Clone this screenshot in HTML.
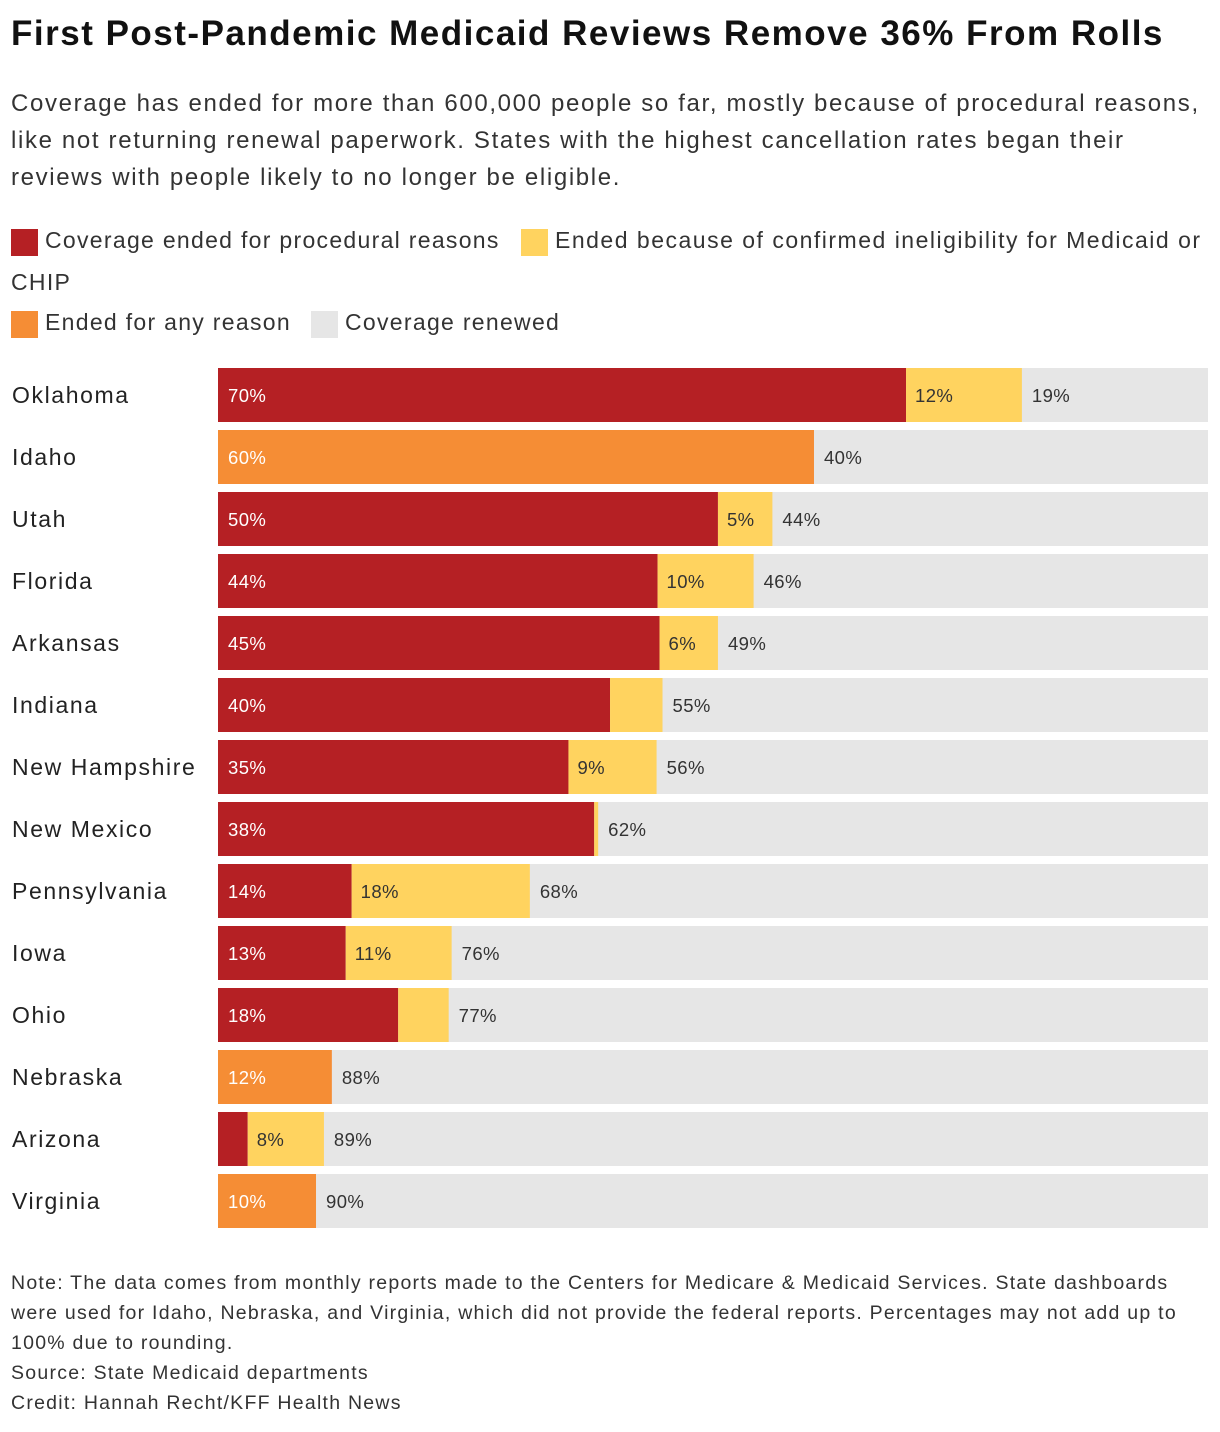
<!DOCTYPE html>
<html><head><meta charset="utf-8">
<style>
body{margin:0;background:#fff;width:1220px;height:1432px;overflow:hidden;font-family:"Liberation Sans",sans-serif;color:#222;}
#title{position:absolute;left:11px;top:14px;font-size:35px;font-weight:bold;letter-spacing:1.5px;color:#111;white-space:nowrap}
#sub{position:absolute;left:11px;top:85px;width:1210px;font-size:24px;line-height:37px;color:#333;letter-spacing:1.65px;white-space:nowrap}
.leg{position:absolute;font-size:23px;color:#333;white-space:nowrap;letter-spacing:1.3px}
.sw{position:absolute;width:27px;height:27px}
#note{position:absolute;left:11px;top:1268px;width:1210px;font-size:19.5px;line-height:30px;color:#333;letter-spacing:1.25px;white-space:nowrap}
</style></head><body>
<div id="title">First Post-Pandemic Medicaid Reviews Remove 36% From Rolls</div>
<div id="sub">Coverage has ended for more than 600,000 people so far, mostly because of procedural reasons,<br>like not returning renewal paperwork. States with the highest cancellation rates began their<br>reviews with people likely to no longer be eligible.</div>
<div>
<div class="sw" style="left:11px;top:229px;background:#b52024"></div>
<div class="leg" style="left:45px;top:227px">Coverage ended for procedural reasons</div>
<div class="sw" style="left:521px;top:229px;background:#ffd35f"></div>
<div class="leg" style="left:555px;top:227px;letter-spacing:1.5px">Ended because of confirmed ineligibility for Medicaid or</div>
<div class="leg" style="left:11px;top:269px">CHIP</div>
<div class="sw" style="left:11px;top:311px;background:#f58d35"></div>
<div class="leg" style="left:45px;top:309px">Ended for any reason</div>
<div class="sw" style="left:311px;top:311px;background:#e6e6e6"></div>
<div class="leg" style="left:345px;top:309px">Coverage renewed</div>
</div>
<svg id="chart" width="1220" height="1260" style="position:absolute;left:0;top:0"></svg>
<div id="note">Note: The data comes from monthly reports made to the Centers for Medicare &amp; Medicaid Services. State dashboards<br>were used for Idaho, Nebraska, and Virginia, which did not provide the federal reports. Percentages may not add up to<br>100% due to rounding.<br>Source: State Medicaid departments<br>Credit: Hannah Recht/KFF Health News</div>
<script>
const states=["Oklahoma","Idaho","Utah","Florida","Arkansas","Indiana","New Hampshire","New Mexico","Pennsylvania","Iowa","Ohio","Nebraska","Arizona","Virginia"];
const procedural=[69.5,0,50.5,44.4,44.6,39.6,35.4,38.0,13.5,12.9,18.2,0,3.0,0];
const ineligible=[11.7,0,5.5,9.7,5.9,5.3,8.9,0.4,18.0,10.7,5.1,0,7.7,0];
const anyReason=[0,60.2,0,0,0,0,0,0,0,0,0,11.5,0,9.9];
const procLabels=["70%","","50%","44%","45%","40%","35%","38%","14%","13%","18%","","",""];
const inelLabels=["12%","","5%","10%","6%","","9%","","18%","11%","","","8%",""];
const anyLabels=["","60%","","","","","","","","","","12%","","10%"];
const renewedLabels=["19%","40%","44%","46%","49%","55%","56%","62%","68%","76%","77%","88%","89%","90%"];
const svg=document.getElementById('chart');const NS="http://www.w3.org/2000/svg";
const x0=218,x1=1208,y0=368,pitch=62,bh=54;
const xs=v=>v*(x1-x0)/100;
function rect(x,y,w,h,f,name){const r=document.createElementNS(NS,'rect');r.setAttribute('x',x);r.setAttribute('y',y);r.setAttribute('width',Math.max(0,w));r.setAttribute('height',h);r.setAttribute('fill',f);


svg.appendChild(r);}
function text(x,y,s,f,size,name,ls){if(!s)return;const t=document.createElementNS(NS,'text');t.setAttribute('x',x);t.setAttribute('y',y);t.setAttribute('fill',f);t.setAttribute('font-size',size);t.setAttribute('font-family','Liberation Sans, sans-serif');if(ls)t.setAttribute('letter-spacing',ls);t.textContent=s;


svg.appendChild(t);}
states.forEach((st,i)=>{const y=y0+i*pitch;const k=st.toLowerCase().replace(/ /g,'-');
text(12,y+35,st,'#222',23,'state-label-'+k,'1.6');
rect(x0,y,x1-x0,bh,'#e6e6e6','bar-renewed-'+k);
let x=x0;
if(anyReason[i]>0){const w=xs(anyReason[i]);rect(x,y,w,bh,'#f58d35','bar-any-reason-'+k);text(x+10,y+34,anyLabels[i],'#fff',18.5,'value-any-reason-'+k,'0.4');x+=w;}
if(procedural[i]>0){const w=xs(procedural[i]);rect(x,y,w,bh,'#b52024','bar-procedural-'+k);text(x+10,y+34,procLabels[i],'#fff',18.5,'value-procedural-'+k,'0.4');x+=w;}
if(ineligible[i]>0){const w=xs(ineligible[i]);rect(x,y,w,bh,'#ffd35f','bar-ineligible-'+k);text(x+9,y+34,inelLabels[i],'#333',18.5,'value-ineligible-'+k,'0.4');x+=w;}
text(x+10,y+34,renewedLabels[i],'#333',18.5,'value-renewed-'+k,'0.4');
});
</script>
</body></html>
